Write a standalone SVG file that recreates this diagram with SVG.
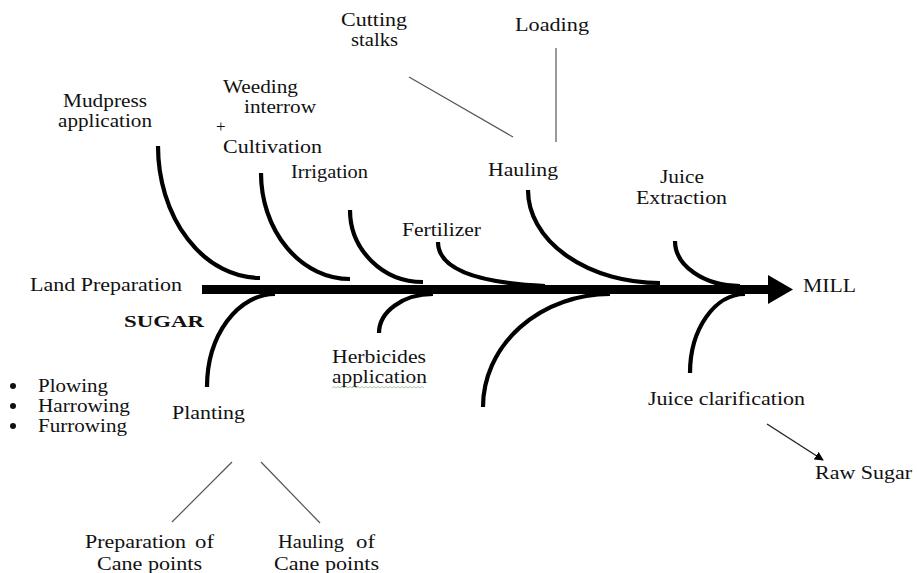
<svg xmlns="http://www.w3.org/2000/svg" width="917" height="573" viewBox="0 0 917 573">
<style>
text{font-family:"Liberation Serif","Times New Roman",serif;font-size:18px;fill:#111}
.b{font-weight:bold;font-size:17px}
.bone{fill:none;stroke:#000;stroke-width:4.2;stroke-linecap:butt}
.thin{fill:none;stroke:#555;stroke-width:1.2}
</style>
<defs>
<marker id="ah" viewBox="0 0 10 10" refX="9" refY="5" markerWidth="9" markerHeight="9" markerUnits="userSpaceOnUse" orient="auto"><path d="M0,0 L10,5 L0,10 Z" fill="#000"/></marker>
</defs>
<rect width="917" height="573" fill="#fff"/>
<g id="connectors">
<rect x="202" y="285" width="567" height="9" fill="#000"/>
<polygon points="768,275 793,289.5 768,304" fill="#000"/>
<path class="bone" d="M158 146 A102 132 0 0 0 260 278"/>
<path class="bone" d="M261 173 A89 106 0 0 0 350 279"/>
<path class="bone" d="M350 210 A73 72 0 0 0 423 282"/>
<path class="bone" d="M438 242 C438 270 480 283 545 286"/>
<path class="bone" d="M528 190 A132 93 0 0 0 660 283"/>
<path class="bone" d="M675 241 A65 45 0 0 0 740 286"/>
<path class="bone" d="M275 294 A68 93 0 0 0 207 387"/>
<path class="bone" d="M433 294 A54 39 0 0 0 379 333"/>
<path class="bone" d="M610 294 A127 113 0 0 0 483 407"/>
<path class="bone" d="M745 294 A55 79 0 0 0 690 373"/>
<path class="thin" d="M409 77 L513 137"/>
<path class="thin" d="M556 48 L556 142"/>
<path class="thin" d="M232 462 L172 522"/>
<path class="thin" d="M261 462 L320 523"/>
<path d="M767 424 L823 460" fill="none" stroke="#222" stroke-width="1.4" marker-end="url(#ah)"/>
</g>
<g id="sugar"><text class="b" x="124" y="327" textLength="80" lengthAdjust="spacingAndGlyphs">SUGAR</text></g>
<g id="mill"><text x="803" y="292" textLength="53" lengthAdjust="spacingAndGlyphs">MILL</text></g>
<g id="land-preparation"><text x="30" y="291" textLength="152" lengthAdjust="spacingAndGlyphs">Land Preparation</text></g>
<g id="land-prep-steps">
<circle cx="13" cy="386" r="3" fill="#111"/>
<circle cx="13" cy="406" r="3" fill="#111"/>
<circle cx="13" cy="426" r="3" fill="#111"/>
<text x="38" y="392" textLength="70" lengthAdjust="spacingAndGlyphs">Plowing</text>
<text x="38" y="412" textLength="92" lengthAdjust="spacingAndGlyphs">Harrowing</text>
<text x="38" y="432" textLength="89" lengthAdjust="spacingAndGlyphs">Furrowing</text>
</g>
<g id="mudpress"><text x="63" y="107" textLength="84" lengthAdjust="spacingAndGlyphs">Mudpress</text><text x="58" y="127" textLength="94" lengthAdjust="spacingAndGlyphs">application</text></g>
<g id="weeding"><text x="223" y="93" textLength="75" lengthAdjust="spacingAndGlyphs">Weeding</text><text x="244" y="113" textLength="72" lengthAdjust="spacingAndGlyphs">interrow</text><text x="216" y="132" style="font-size:17px">+</text><text x="223" y="153" textLength="99" lengthAdjust="spacingAndGlyphs">Cultivation</text></g>
<g id="irrigation"><text x="291" y="178" textLength="77" lengthAdjust="spacingAndGlyphs">Irrigation</text></g>
<g id="fertilizer"><text x="402" y="236" textLength="79" lengthAdjust="spacingAndGlyphs">Fertilizer</text></g>
<g id="hauling"><text x="488" y="176" textLength="70" lengthAdjust="spacingAndGlyphs">Hauling</text></g>
<g id="cutting-stalks"><text x="341" y="26" textLength="66" lengthAdjust="spacingAndGlyphs">Cutting</text><text x="351" y="46" textLength="47" lengthAdjust="spacingAndGlyphs">stalks</text></g>
<g id="loading"><text x="515" y="31" textLength="74" lengthAdjust="spacingAndGlyphs">Loading</text></g>
<g id="juice-extraction"><text x="660" y="183" textLength="44" lengthAdjust="spacingAndGlyphs">Juice</text><text x="636" y="204" textLength="91" lengthAdjust="spacingAndGlyphs">Extraction</text></g>
<g id="herbicides"><text x="332" y="363" textLength="94" lengthAdjust="spacingAndGlyphs">Herbicides</text><text x="332" y="383" textLength="95" lengthAdjust="spacingAndGlyphs">application</text>
<path d="M332 388 l2 -1.5 l2 1.5 l2 -1.5 l2 1.5 l2 -1.5 l2 1.5 l2 -1.5 l2 1.5 l2 -1.5 l2 1.5 l2 -1.5 l2 1.5 l2 -1.5 l2 1.5 l2 -1.5 l2 1.5 l2 -1.5 l2 1.5 l2 -1.5 l2 1.5 l2 -1.5 l2 1.5 l2 -1.5 l2 1.5 l2 -1.5 l2 1.5 l2 -1.5 l2 1.5 l2 -1.5 l2 1.5 l2 -1.5 l2 1.5 l2 -1.5 l2 1.5 l2 -1.5 l2 1.5 l2 -1.5 l2 1.5 l2 -1.5 l2 1.5 l2 -1.5 l2 1.5 l2 -1.5 l2 1.5 l2 -1.5 l2 1.5" fill="none" stroke="#8cc28c" stroke-width="0.8"/></g>
<g id="planting"><text x="172" y="419" textLength="73" lengthAdjust="spacingAndGlyphs">Planting</text></g>
<g id="prep-cane"><text x="85" y="548"><tspan textLength="101" lengthAdjust="spacingAndGlyphs">Preparation</tspan><tspan x="195" textLength="19" lengthAdjust="spacingAndGlyphs">of</tspan></text><text x="97" y="570" textLength="105" lengthAdjust="spacingAndGlyphs">Cane points</text></g>
<g id="hauling-cane"><text x="278" y="548"><tspan textLength="66" lengthAdjust="spacingAndGlyphs">Hauling</tspan><tspan x="356" textLength="19" lengthAdjust="spacingAndGlyphs">of</tspan></text><text x="274" y="570" textLength="105" lengthAdjust="spacingAndGlyphs">Cane points</text></g>
<g id="juice-clarification"><text x="648" y="405" textLength="157" lengthAdjust="spacingAndGlyphs">Juice clarification</text></g>
<g id="raw-sugar"><text x="815" y="479" textLength="97" lengthAdjust="spacingAndGlyphs">Raw Sugar</text></g>
</svg>
